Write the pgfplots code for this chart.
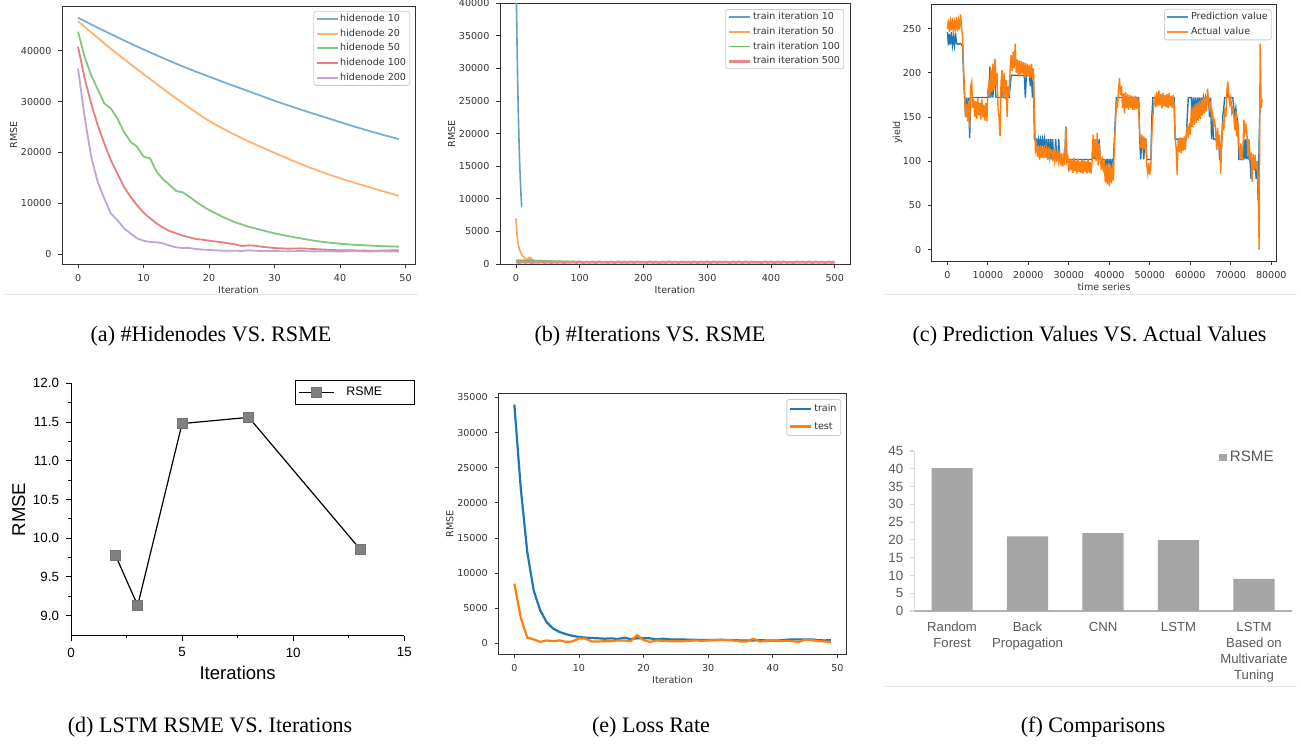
\documentclass[border=0pt]{standalone}
\usepackage{pgfplots}
\pgfplotsset{compat=1.18}
\usepackage{pgfplotstable}
\usepackage{fontspec}
\setmainfont{Liberation Serif}
\newfontfamily\dejavu{DejaVu Sans}
\newfontfamily\arial{Liberation Sans}

\definecolor{c0}{HTML}{1F77B4}
\definecolor{c1}{HTML}{FF7F0E}
\definecolor{c2}{HTML}{2CA02C}
\definecolor{c3}{HTML}{D62728}
\definecolor{c4}{HTML}{9467BD}
\definecolor{barg}{HTML}{A5A5A5}
\definecolor{axg}{HTML}{333333}
\definecolor{xlg}{HTML}{595959}

\newcommand\mplfont{\dejavu\fontsize{4.8}{5.6}\selectfont}
\newcommand\capfont{\fontsize{11.1}{13}\selectfont}

% (c) prediction vs actual, one value every 250 samples
\pgfplotstableread[header=false,row sep=\\]{
246\\231\\244\\232\\246\\231\\240\\231\\245\\233\\233\\232\\233\\233\\232\\
230\\196\\172\\150\\
172\\150\\172\\126\\
172\\172\\172\\
172\\172\\172\\172\\172\\172\\172\\172\\172\\172\\172\\172\\172\\172\\
172\\172\\207\\
172\\197\\172\\207\\190\\172\\
172\\172\\172\\172\\172\\197\\172\\172\\172\\172\\172\\172\\172\\
185\\197\\197\\197\\197\\197\\
197\\197\\197\\197\\197\\197\\197\\197\\197\\172\\197\\197\\197\\197\\185\\197\\172\\197\\
125\\125\\
125\\117\\125\\118\\125\\117\\125\\117\\125\\110\\125\\102\\125\\102\\125\\
102\\125\\102\\102\\125\\102\\102\\125\\
102\\102\\102\\102\\102\\102\\
139\\102\\
102\\102\\102\\102\\102\\102\\102\\102\\102\\102\\102\\102\\102\\102\\102\\102\\102\\102\\102\\102\\102\\102\\102\\102\\102\\
125\\102\\125\\102\\125\\102\\125\\
102\\102\\102\\102\\
102\\90\\102\\102\\88\\102\\102\\92\\102\\102\\
125\\150\\172\\172\\172\\172\\172\\172\\
172\\172\\172\\172\\172\\172\\172\\172\\172\\172\\172\\172\\172\\172\\172\\172\\172\\
125\\102\\125\\125\\102\\125\\125\\
102\\102\\102\\102\\102\\
150\\172\\172\\
172\\172\\172\\172\\172\\172\\172\\172\\172\\172\\172\\172\\172\\172\\172\\172\\172\\172\\172\\172\\
125\\125\\125\\125\\
125\\125\\125\\125\\125\\125\\125\\
125\\150\\172\\172\\172\\
172\\150\\172\\155\\172\\150\\172\\160\\172\\155\\172\\160\\172\\165\\172\\165\\172\\
172\\150\\172\\125\\150\\125\\125\\
125\\125\\125\\125\\102\\102\\
120\\150\\160\\172\\172\\172\\185\\
172\\172\\172\\172\\172\\
160\\150\\160\\150\\140\\
102\\102\\102\\102\\102\\
125\\102\\125\\
102\\125\\102\\102\\80\\102\\
102\\90\\102\\80\\100\\
56\\120\\172\\172\\172\\
}\predtab

\pgfplotstableread[header=false,row sep=\\]{
250\\260\\246\\258\\248\\262\\245\\257\\250\\263\\247\\259\\249\\266\\252\\
240\\205\\175\\150\\
165\\145\\168\\138\\
185\\190\\160\\
170\\150\\168\\148\\172\\152\\166\\147\\170\\150\\164\\146\\166\\145\\
180\\188\\175\\
205\\178\\210\\180\\216\\185\\
200\\160\\150\\128\\190\\203\\175\\200\\170\\192\\150\\185\\175\\
205\\220\\202\\224\\205\\233\\
200\\215\\198\\214\\196\\213\\199\\212\\195\\211\\197\\210\\196\\209\\194\\210\\197\\205\\
150\\112\\
118\\105\\116\\102\\117\\104\\115\\103\\118\\104\\114\\102\\116\\104\\113\\
112\\100\\114\\101\\111\\99\\113\\100\\
108\\95\\109\\94\\106\\96\\
139\\100\\
104\\88\\103\\90\\102\\87\\104\\89\\101\\86\\103\\88\\100\\87\\102\\86\\101\\88\\100\\86\\102\\87\\99\\86\\101\\
130\\105\\125\\100\\132\\95\\120\\
104\\90\\105\\91\\
97\\76\\95\\74\\98\\72\\94\\75\\96\\78\\
120\\140\\169\\160\\180\\194\\175\\185\\
160\\177\\154\\178\\160\\176\\158\\175\\160\\174\\158\\173\\158\\174\\159\\172\\158\\
132\\115\\130\\113\\128\\114\\125\\
95\\86\\98\\85\\96\\
130\\150\\165\\
172\\161\\178\\162\\180\\163\\176\\160\\177\\162\\175\\161\\176\\160\\177\\162\\174\\160\\175\\161\\
128\\115\\85\\125\\
110\\127\\109\\126\\112\\128\\113\\
130\\140\\126\\143\\130\\
160\\139\\162\\141\\165\\143\\166\\146\\168\\148\\170\\152\\172\\154\\173\\156\\182\\
170\\160\\165\\150\\155\\140\\145\\
135\\113\\138\\115\\130\\86\\
120\\145\\135\\160\\150\\175\\190\\
175\\165\\172\\155\\160\\
150\\135\\157\\128\\145\\
118\\102\\120\\101\\115\\
147\\132\\140\\
130\\105\\125\\102\\110\\77\\
108\\91\\107\\90\\100\\
75\\0\\233\\160\\170\\
}\actualtab

\pgfplotsset{
  mpl/.style={
    scale only axis,
    anchor=south west,
    axis line style={axg, line width=0.4bp},
    tick align=outside,
    tick pos=left,
    major tick length=1.8bp,
    tick style={axg, line width=0.4bp},
    tick label style={font=\mplfont, text=axg},
    label style={font=\mplfont, text=axg},
    xlabel shift=-4.5bp,
    ylabel shift=-5bp,
    /pgf/number format/assume math mode=true,
    /pgf/number format/1000 sep={},
    scaled ticks=false,
    legend cell align=left,
    legend style={font=\mplfont, text=axg, draw=black!20, line width=0.4bp,
      rounded corners=1.2bp, fill=white, anchor=north east,
      inner xsep=0.9bp, inner ysep=0.6bp, row sep=0.9bp,
      nodes={inner sep=0.9bp, text height=3.6bp, text depth=1.05bp}},
    legend image code/.code={\draw[##1] (0bp,0bp) -- (10.5bp,0bp);},
  },
}

\begin{document}
\begin{tikzpicture}[x=0.5bp, y=0.5bp]
\path[use as bounding box] (0,0) rectangle (1301,745);

% separator rules
\draw[black!9, line width=0.5bp] (5,450) -- (418,450);
\draw[black!9, line width=0.5bp] (885,450) -- (1297,450);
\draw[black!9, line width=0.5bp] (885,59) -- (1297,59);

% ---------------- (a)
\begin{axis}[mpl, at={(31bp,240.5bp)}, width=176.5bp, height=129bp,
  xmin=-2.45, xmax=51.45, ymin=-1960, ymax=48800,
  xtick={0,10,...,50}, ytick={0,10000,...,40000},
  xlabel={Iteration}, ylabel={RMSE},
  legend style={at={(0.986,0.981)}}]
\addplot[c0!60!white, line width=0.9bp] coordinates {(0,46500)(2,45180)(4,43900)(6,42650)(8,41430)(10,40250)(12,39100)(14,37980)(16,36900)(18,35880)(20,34900)(22,33930)(24,32980)(26,32040)(28,31100)(30,30150)(32,29270)(34,28420)(36,27590)(38,26780)(40,25950)(42,25150)(44,24380)(46,23650)(48,22940)(49,22600)};
\addlegendentry{hidenode 10}
\addplot[c1!60!white, line width=0.9bp, smooth] coordinates {(0,45800)(5,40400)(10,35400)(15,30600)(20,26200)(25,22800)(30,19900)(35,17200)(40,14900)(45,12950)(49,11450)};
\addlegendentry{hidenode 20}
\addplot[c2!60!white, line width=0.9bp] coordinates {(0,43740)(1,38800)(2,35200)(3,32400)(4,29640)(5,28650)(6,26690)(7,24060)(8,22100)(9,21110)(10,19150)(11,18820)(12,16200)(13,14690)(14,13570)(15,12390)(16,12130)(17,11280)(18,10290)(19,9440)(20,8660)(22,7340)(24,6230)(26,5380)(28,4720)(30,4070)(32,3540)(34,3080)(36,2620)(38,2300)(40,2030)(42,1840)(44,1700)(46,1570)(49,1440)};
\addlegendentry{hidenode 50}
\addplot[c3!60!white, line width=0.9bp] coordinates {(0,40790)(1,34560)(2,29640)(3,25380)(4,21770)(5,18490)(6,15870)(7,13250)(8,11280)(9,9640)(10,8130)(11,7020)(12,6030)(13,5180)(14,4520)(15,4070)(16,3610)(17,3280)(18,2950)(19,2820)(20,2620)(22,2300)(24,1900)(25,1570)(26,1700)(27,1640)(28,1440)(30,1180)(32,1050)(34,1110)(36,980)(38,850)(40,720)(42,720)(44,660)(46,660)(48,720)(49,720)};
\addlegendentry{hidenode 100}
\addplot[c4!60!white, line width=0.9bp] coordinates {(0,36520)(1,27000)(2,19150)(3,14200)(4,10950)(5,8000)(6,6690)(7,5050)(8,4070)(9,3080)(10,2620)(11,2360)(12,2300)(13,2100)(14,1640)(15,1310)(16,1180)(17,1180)(18,980)(20,790)(22,660)(24,660)(25,590)(26,720)(28,590)(30,590)(32,520)(34,590)(36,520)(38,560)(40,500)(42,560)(44,500)(46,540)(48,500)(49,520)};
\addlegendentry{hidenode 200}
\end{axis}

% ---------------- (b)
\begin{axis}[mpl, at={(250bp,240.5bp)}, width=175bp, height=130.35bp,
  xmin=-24.95, xmax=523.95, ymin=0, ymax=40000,
  xtick={0,100,...,500}, ytick={0,5000,...,40000},
  xlabel={Iteration}, ylabel={RMSE},
  legend style={at={(0.983,0.978)}}]
\addplot[c0!70!white, line width=0.8bp] coordinates {(0,46000)(1,38500)(2,32000)(3,26500)(4,22000)(5,18300)(6,15200)(7,12600)(8,10500)(9,8700)};
\addlegendentry{train iteration 10}
\addplot[c1!70!white, line width=0.8bp] table[header=false,row sep=\\,x expr=\coordindex,y index=0]{7000\\5500\\4300\\3500\\2900\\2400\\2100\\1900\\1700\\1500\\1300\\1200\\1100\\1000\\900\\850\\800\\750\\700\\800\\900\\1000\\700\\800\\900\\700\\600\\550\\500\\480\\450\\500\\470\\450\\430\\450\\420\\400\\450\\420\\380\\400\\420\\400\\380\\400\\390\\370\\360\\350\\};
\addlegendentry{train iteration 50}
\addplot[c2!70!white, line width=0.8bp] table[header=false,row sep=\\,x expr=\coordindex*2,y index=0]{550\\480\\620\\500\\580\\470\\600\\520\\560\\480\\590\\500\\540\\470\\560\\490\\530\\460\\550\\480\\520\\450\\500\\470\\480\\430\\470\\420\\460\\430\\450\\400\\440\\410\\430\\390\\420\\380\\410\\370\\400\\380\\390\\360\\400\\370\\380\\350\\390\\360\\};
\addlegendentry{train iteration 100}
\addplot[c3!55!white, line width=1.4bp] table[header=false,row sep=\\,x expr=\coordindex*5,y index=0]{300\\220\\330\\240\\310\\210\\290\\250\\320\\230\\300\\220\\280\\240\\310\\200\\290\\260\\300\\230\\320\\210\\290\\240\\300\\220\\310\\250\\280\\230\\300\\210\\320\\240\\290\\220\\310\\230\\300\\250\\280\\220\\310\\240\\290\\210\\300\\230\\320\\240\\290\\220\\300\\250\\280\\230\\310\\210\\290\\240\\300\\220\\320\\230\\280\\250\\300\\210\\290\\240\\310\\220\\300\\230\\290\\250\\280\\220\\310\\240\\300\\210\\290\\230\\320\\240\\280\\220\\300\\250\\290\\230\\310\\210\\300\\240\\290\\220\\300\\230\\290\\};
\addlegendentry{train iteration 500}
\end{axis}

% ---------------- (c)
\begin{axis}[mpl, at={(465.85bp,242bp)}, width=172.4bp, height=128.5bp,
  xmin=-3870, xmax=81300, ymin=-12.8, ymax=277.8,
  xtick={0,10000,...,80000}, ytick={0,50,...,250},
  xlabel={time series}, ylabel={yield}, ylabel shift=-6.5bp,
  legend style={at={(0.986,0.981)}, row sep=1.2bp}]
\addplot[c0, line width=0.7bp, forget plot] table[x expr=\coordindex*250, y index=0]{\predtab};
\addplot[c1, line width=0.7bp, forget plot] table[x expr=\coordindex*250, y index=0]{\actualtab};
\addlegendimage{c0!80!white, line width=1bp}
\addlegendentry{Prediction value}
\addlegendimage{c1!85!white, line width=1bp}
\addlegendentry{Actual value}
\end{axis}

% ---------------- (d)
\begin{axis}[scale only axis, anchor=south west, at={(35.5bp,54.65bp)},
  width=166.65bp, height=126.2bp,
  xmin=0, xmax=15, ymin=8.74, ymax=12.0,
  axis lines*=left, axis line style={black, line width=0.5bp},
  tick align=outside, major tick length=2.5bp, minor tick length=1.4bp,
  tick style={black, line width=0.5bp},
  xtick={0,5,10,15}, ytick={9,9.5,...,12}, minor x tick num=1, minor y tick num=1,
  yticklabel style={/pgf/number format/.cd, fixed, fixed zerofill, precision=1},
  /pgf/number format/assume math mode=true,
  tick label style={font=\arial\fontsize{6.7}{8}\selectfont},
  xlabel={Iterations}, ylabel={RMSE},
  xlabel shift=-2.5bp, ylabel shift=-3bp,
  label style={font=\arial\fontsize{9.3}{11}\selectfont},
  legend style={at={(0.672,1.013)}, anchor=north west, draw=black, line width=0.4bp,
    fill=white, font=\arial\fontsize{6.2}{7}\selectfont,
    inner xsep=1.3bp, inner ysep=2.3bp,
    nodes={inner sep=0.8bp, text height=4.5bp, text depth=1.2bp}},
  legend image code/.code={\draw[#1, mark repeat=2, mark phase=2] plot coordinates {(0bp,0bp) (8.9bp,0bp) (17.8bp,0bp)};}]
\addplot[black, line width=0.6bp, mark=square*, mark size=2.5bp,
  mark options={fill=gray, draw=black!55, line width=0.3bp}]
  coordinates {(2,9.78)(3,9.13)(5,11.48)(8,11.56)(13,9.86)};
\addlegendentry{\hspace{5bp}\makebox[32bp][l]{RSME}}
\end{axis}

% ---------------- (e)
\begin{axis}[mpl, at={(249.15bp,45.5bp)}, width=174.2bp, height=130.35bp,
  xmin=-2.48, xmax=51.45, ymin=-1530, ymax=35600,
  xtick={0,10,...,50}, ytick={0,5000,...,35000},
  xlabel={Iteration}, ylabel={RMSE},
  legend style={at={(0.984,0.978)}, nodes={text height=4.4bp, text depth=1.2bp, inner sep=1.2bp}},
  legend image code/.code={\draw[#1] (0bp,0bp) -- (10.5bp,0bp);}]
\addplot[c0, line width=1.1bp] coordinates {(0,34000)(1,22000)(2,13000)(3,7500)(4,4700)(5,3000)(6,2100)(7,1600)(8,1300)(9,1050)(10,900)(11,800)(12,750)(13,700)(14,650)(15,700)(16,600)(17,800)(18,600)(19,700)(20,700)(21,700)(22,550)(23,650)(24,550)(25,550)(26,550)(27,500)(28,500)(29,450)(30,450)(31,450)(32,500)(33,450)(34,450)(35,400)(36,400)(37,400)(38,450)(39,400)(40,400)(41,400)(42,500)(43,550)(44,550)(45,550)(46,550)(47,450)(48,400)(49,450)};
\addlegendentry{train}
\addplot[c1, line width=1.1bp] coordinates {(0,8500)(1,3600)(2,800)(3,550)(4,200)(5,400)(6,300)(7,400)(8,200)(9,250)(10,700)(11,650)(12,250)(13,250)(14,300)(15,300)(16,400)(17,400)(18,300)(19,1150)(20,450)(21,200)(22,400)(23,350)(24,300)(25,300)(26,300)(27,350)(28,400)(29,350)(30,400)(31,450)(32,450)(33,450)(34,400)(35,250)(36,250)(37,650)(38,250)(39,300)(40,350)(41,300)(42,350)(43,300)(44,200)(45,500)(46,450)(47,300)(48,250)(49,200)};
\addlegendentry{test}
\end{axis}

% ---------------- (f)
\begin{axis}[scale only axis, anchor=south west, at={(457.15bp,67bp)},
  width=188.7bp, height=80bp,
  xmin=-0.5, xmax=4.5, ymin=0, ymax=45,
  axis x line*=bottom, axis y line*=left,
  x axis line style={black!30, line width=0.6bp},
  y axis line style={black!15, line width=0.6bp},
  xtick={0,1,2,3,4}, major x tick style={draw=none},
  xticklabels={Random\\Forest, Back\\Propagation, CNN, LSTM, LSTM\\Based on\\Multivariate\\Tuning},
  x tick label style={align=center, font=\arial\fontsize{6.6}{8}\selectfont, text=xlg},
  ytick={0,5,...,45}, major y tick style={black!15, line width=0.6bp},
  tick align=outside, major tick length=2bp,
  y tick label style={font=\arial\fontsize{6.7}{8}\selectfont, text=xlg},
  /pgf/number format/assume math mode=true,
  ybar, bar width=0.545,
  legend style={at={(0.8055,0.9606)}, anchor=west, draw=none, fill=none,
    font=\arial\fontsize{7.6}{9}\selectfont, text=xlg, inner sep=0bp,
    nodes={inner sep=0.8bp}},
  legend image code/.code={\fill[barg] (0bp,-1.9bp) rectangle (4.2bp,1.8bp);}]
\addplot[fill=barg, draw=none] coordinates {(0,40.2)(1,21.0)(2,21.9)(3,19.9)(4,9.0)};
\addlegendentry{\hspace{0.6bp}RSME}
\end{axis}

% captions
\node[font=\capfont] at (211,409) {(a) \#Hidenodes VS. RSME};
\node[font=\capfont] at (650,409) {(b) \#Iterations VS. RSME};
\node[font=\capfont] at (1089.5,409) {(c) Prediction Values VS. Actual Values};
\node[font=\capfont] at (210,18) {(d) LSTM RSME VS. Iterations};
\node[font=\capfont] at (651,18) {(e) Loss Rate};
\node[font=\capfont] at (1093,18) {(f) Comparisons};
\end{tikzpicture}
\end{document}
